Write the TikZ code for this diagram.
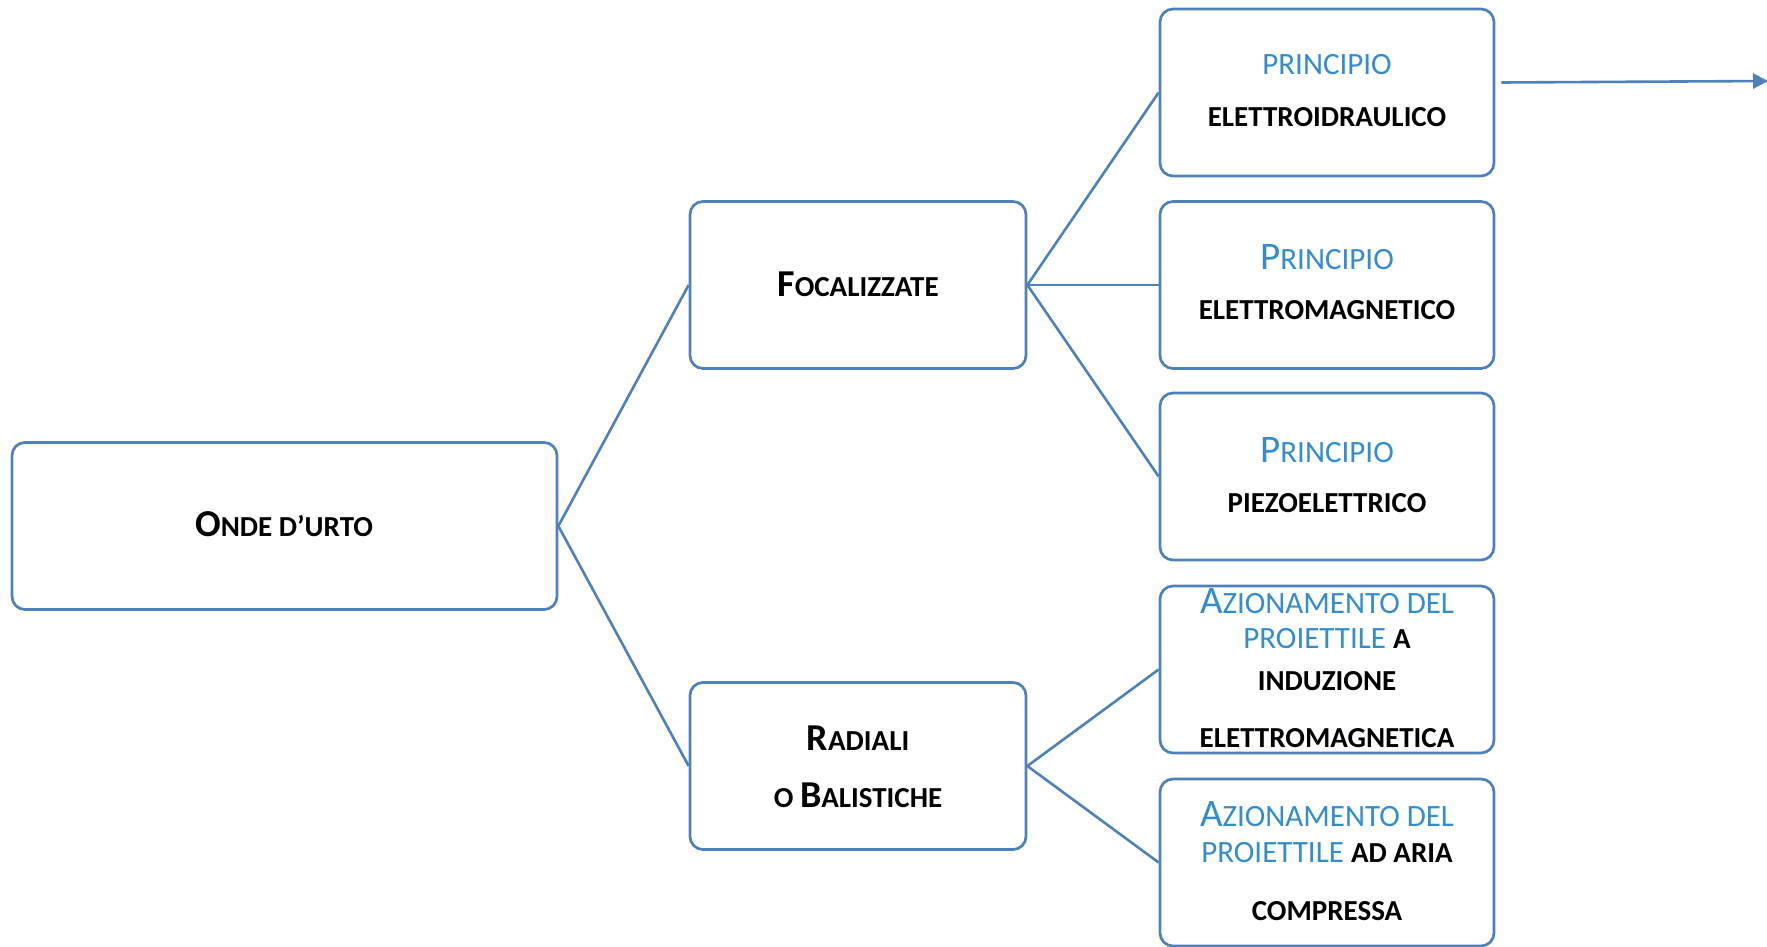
\documentclass[tikz,border=0pt]{standalone}
\usepackage{fontspec}
\setmainfont{Carlito}
\usetikzlibrary{arrows.meta,calc}
\definecolor{lineblue}{RGB}{79,129,189}
\definecolor{txtblue}{RGB}{52,141,207}
\newcommand{\mybigcap}[1]{{\fontsize{38}{40}\selectfont #1}}
\newcommand{\mysmcap}[1]{{\fontsize{29}{32}\selectfont #1}}
\newcommand{\bluebig}[1]{{\color{txtblue}\mdseries\fontsize{39}{40}\selectfont #1}}
\newcommand{\bluesm}[1]{{\color{txtblue}\mdseries\fontsize{31}{32}\selectfont #1}}
\tikzset{
  box/.style={draw=lineblue, line width=2.7pt, rounded corners=13pt, fill=white,
    inner sep=0pt, minimum height=167pt},
  bigbox/.style={box, minimum width=545pt},
  midbox/.style={box, minimum width=336pt},
  leafbox/.style={box, minimum width=334pt},
  lbl/.style={inner sep=0pt, font=\bfseries, text=black},
  conn/.style={draw=lineblue, line width=2.6pt}
}
\begin{document}
\begin{tikzpicture}[x=1pt,y=-1pt]
\useasboundingbox (0,0) rectangle (1767,947);
% boxes
\node[bigbox] (onde) at (284.5,526) {};
\node[midbox] (foc) at (858,285) {};
\node[midbox] (rad) at (858,766) {};
\node[leafbox] (r1) at (1327,92.5) {};
\node[leafbox] (r2) at (1327,285) {};
\node[leafbox] (r3) at (1327,476.5) {};
\node[leafbox] (r4) at (1327,669.5) {};
\node[leafbox] (r5) at (1327,862.5) {};
% connectors
\draw[conn] (onde.east) -- (foc.west);
\draw[conn] (onde.east) -- (rad.west);
\draw[conn] (foc.east) -- (r1.west);
\draw[conn] (foc.east) -- (r2.west);
\draw[conn] (foc.east) -- (r3.west);
\draw[conn] (rad.east) -- (r4.west);
\draw[conn] (rad.east) -- (r5.west);
\coordinate (aend) at (1768,81);
\draw[conn, -{Triangle[length=15pt,width=15pt]}] ($(r1.east)+(6,-10)$) -- (aend);
% labels
\node[lbl] (tonde) at (284,524) {\mybigcap{O}\mysmcap{NDE D’URTO}};
\node[lbl] (tfoc) at (858,284) {\mybigcap{F}\mysmcap{OCALIZZATE}};
\node[lbl] (trad1) at (858,738) {\mybigcap{R}\mysmcap{ADIALI}};
\node[lbl] (trad2) at (858,795) {\mysmcap{O }\mybigcap{B}\mysmcap{ALISTICHE}};
\node[lbl] (t1a) at (1327,65) {\bluesm{PRINCIPIO}};
\node[lbl] (t1b) at (1327,117) {\mysmcap{ELETTROIDRAULICO}};
\node[lbl] (t2a) at (1327,257) {\bluebig{P}\bluesm{RINCIPIO}};
\node[lbl] (t2b) at (1327,310) {\mysmcap{ELETTROMAGNETICO}};
\node[lbl] (t3a) at (1327,450) {\bluebig{P}\bluesm{RINCIPIO}};
\node[lbl] (t3b) at (1327,503) {\mysmcap{PIEZOELETTRICO}};
\node[lbl] (t4a) at (1327,601) {\bluebig{A}\bluesm{ZIONAMENTO DEL}};
\node[lbl] (t4b) at (1327,639) {\bluesm{PROIETTILE }\mysmcap{A}};
\node[lbl] (t4c) at (1327,681) {\mysmcap{INDUZIONE}};
\node[lbl] (t4d) at (1327,738) {\mysmcap{ELETTROMAGNETICA}};
\node[lbl] (t5a) at (1327,814) {\bluebig{A}\bluesm{ZIONAMENTO DEL}};
\node[lbl] (t5b) at (1327,853) {\bluesm{PROIETTILE }\mysmcap{AD ARIA}};
\node[lbl] (t5c) at (1327,911) {\mysmcap{COMPRESSA}};
\end{tikzpicture}
\end{document}
